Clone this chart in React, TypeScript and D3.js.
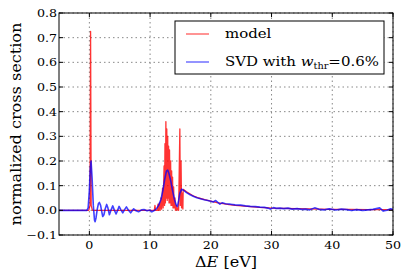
import React from 'react';
import * as d3 from 'd3';

// model cross section: narrow peaks at 0 eV and in the 11-15 eV band, then a smooth tail
const modelE = [
  -5, -0.1, 0.1, 0.2, 0.3, 0.5, 10.7, 10.8, 10.9, 11.2, 11.3, 11.4, 11.55, 11.65, 11.8, 11.9,
  12.05, 12.15, 12.3, 12.38, 12.45, 12.52, 12.6, 12.67, 12.75, 12.82, 12.9, 12.97, 13.05, 13.12,
  13.2, 13.28, 13.38, 13.45, 13.55, 13.62, 13.7, 13.78, 13.88, 13.95, 14.1, 14.17, 14.35, 14.42,
  14.6, 14.7, 14.9, 14.98, 15.1, 15.18, 15.3, 15.4, 15.45, 16, 17, 18, 19, 20, 21, 22, 23, 24,
  25, 26, 27, 28, 29, 30, 32, 34, 36, 38, 40, 43, 46, 50,
];
const modelY = [
  0, 0, 0.02, 0.725, 0.02, 0, 0, 0.02, 0, 0, 0.025, 0, 0.03, 0, 0.05, 0.005,
  0.09, 0.01, 0.18, 0.02, 0.27, 0.03, 0.36, 0.05, 0.33, 0.04, 0.3, 0.05, 0.26, 0.03,
  0.245, 0.03, 0.2, 0.02, 0.16, 0.02, 0.135, 0.01, 0.095, 0.01, 0.05, 0, 0.02, 0,
  0.01, 0, 0.33, 0.02, 0.2, 0.01, 0.07, 0.005, 0.085, 0.075, 0.06, 0.05, 0.043, 0.037, 0.031, 0.027, 0.023, 0.02,
  0.018, 0.016, 0.014, 0.012, 0.011, 0.009, 0.008, 0.007, 0.006, 0.005, 0.004, 0.004, 0.003, 0.003,
];

// SVD reconstruction
const svdE = [
  -5, -1, -0.4, -0.2, 0, 0.15, 0.28, 0.45, 0.65, 0.85, 0.95, 1.1, 1.3, 1.5, 1.65, 1.85, 2.0, 2.2,
  2.4, 2.6, 2.85, 3.05, 3.3, 3.55, 3.85, 4.1, 4.4, 4.65, 4.9, 5.2, 5.5, 5.8, 6.1, 6.45, 6.8, 7.05,
  7.3, 7.7, 8.1, 8.6, 9.0, 9.5, 10.0, 10.3, 10.6, 11.0, 11.4, 11.8, 12.1, 12.4, 12.7, 12.9, 13.1,
  13.4, 13.7, 14.0, 14.3, 14.5, 14.7, 14.9, 15.2, 15.6, 16.0, 16.6, 17.2, 17.7, 18.3, 18.9, 19.5,
  20.0, 20.4, 20.8, 21.1, 21.5, 21.9, 22.4, 23.2, 24.0, 24.9, 25.7, 26.5, 27.3, 28.1, 28.8, 29.4,
  29.8, 30.3, 30.8, 31.4, 32.0, 32.7, 33.4, 34.2, 35.0, 35.6, 36.3, 37.1, 37.8, 38.7, 39.5, 40.6,
  41.5, 42.4, 43.2, 44.0, 45.0, 45.9, 46.7, 47.8, 48.4, 49.0, 49.6, 50,
];
const svdY = [
  0, 0, 0, 0.01, 0.08, 0.17, 0.2, 0.13, 0.02, -0.04, -0.046, -0.03, 0.005, 0.028, 0.032, 0.02, 0, -0.025,
  -0.018, 0.005, 0.024, 0.01, -0.018, 0, 0.018, 0.002, -0.015, 0, 0.016, 0.002, -0.01, 0.003, 0.014, 0, -0.01, -0.002,
  0.006, -0.002, -0.006, 0.002, 0.003, -0.002, 0.001, -0.006, -0.002, 0.005, 0.02, 0.045, 0.08, 0.125, 0.16, 0.163, 0.15,
  0.12, 0.08, 0.045, 0.022, 0.015, 0.04, 0.07, 0.086, 0.08, 0.072, 0.063, 0.056, 0.051, 0.047, 0.043, 0.04,
  0.037, 0.034, 0.04, 0.033, 0.025, 0.031, 0.027, 0.025, 0.022, 0.021, 0.018, 0.016, 0.015, 0.013, 0.012, 0.009,
  0.005, 0.011, 0.008, 0.009, 0.007, 0.009, 0.005, 0.007, 0.004, 0.005, 0.002, 0.01, 0.004, 0.002, 0.006, 0.001,
  0.005, 0.003, -0.001, 0.003, 0, 0.002, 0.004, 0.01, -0.003, 0, 0.006, 0.004,
];

const xTicks = [0, 10, 20, 30, 40, 50];
const yTicks = [-0.1, 0, 0.1, 0.2, 0.3, 0.4, 0.5, 0.6, 0.7, 0.8];

const font = 'DejaVu Serif';
const stretch = 1.15;

export default function App() {
  const left = 59, right = 393, top = 13, bottom = 235;
  const x = d3.scaleLinear().domain([-5, 50]).range([left, right]);
  const y = d3.scaleLinear().domain([-0.1, 0.8]).range([bottom, top]);

  const line = d3.line<[number, number]>().x(d => x(d[0])).y(d => y(d[1]));
  const modelPath = line(modelE.map((e, i) => [e, modelY[i]]));
  const svdPath = line(svdE.map((e, i) => [e, svdY[i]]));

  const fmt = (v: number) => d3.format('.1f')(v).replace('-', '\u2212');

  return (
    <svg width={407} height={280} style={{ position: 'absolute', left: 0, top: 0, background: '#fff' }}>
      <rect width={407} height={280} fill="#fff" />
      <defs>
        <clipPath id="plot">
          <rect x={left} y={top} width={right - left} height={bottom - top} />
        </clipPath>
      </defs>

      {/* grid */}
      <g stroke="#888" strokeWidth={1} strokeDasharray="1.5,3">
        {xTicks.map(t => (
          <line key={'gx' + t} x1={x(t)} x2={x(t)} y1={top} y2={bottom} />
        ))}
        {yTicks.map(t => (
          <line key={'gy' + t} x1={left} x2={right} y1={y(t)} y2={y(t)} />
        ))}
      </g>

      <g clipPath="url(#plot)" fill="none" strokeLinejoin="round">
        <path d={modelPath ?? ''} stroke="#ff0000" strokeWidth={1.3} strokeOpacity={0.8} />
        <path d={svdPath ?? ''} stroke="#0000ff" strokeWidth={1.6} strokeOpacity={0.75} />
      </g>

      {/* frame and inward ticks */}
      <rect x={left} y={top} width={right - left} height={bottom - top} fill="none" stroke="#000" strokeWidth={1} />
      <g stroke="#000" strokeWidth={1}>
        {xTicks.map(t => (
          <g key={'tx' + t}>
            <line x1={x(t)} x2={x(t)} y1={bottom} y2={bottom - 4} />
            <line x1={x(t)} x2={x(t)} y1={top} y2={top + 4} />
          </g>
        ))}
        {yTicks.map(t => (
          <g key={'ty' + t}>
            <line x1={left} x2={left + 4} y1={y(t)} y2={y(t)} />
            <line x1={right} x2={right - 4} y1={y(t)} y2={y(t)} />
          </g>
        ))}
      </g>

      {/* tick labels */}
      <g fontFamily={font} fontSize={11} fill="#000">
        {xTicks.map(t => (
          <g key={'lx' + t} transform={`translate(${x(t)},249) scale(${stretch},1)`}>
            <text textAnchor="middle">{t}</text>
          </g>
        ))}
        {yTicks.map(t => (
          <g key={'ly' + t} transform={`translate(${left - 2},${y(t) + 4}) scale(${stretch},1)`}>
            <text textAnchor="end">{fmt(t)}</text>
          </g>
        ))}
      </g>

      {/* axis labels */}
      <g transform={`translate(226,267) scale(${stretch},1)`}>
        <text textAnchor="middle" fontFamily={font} fontSize={14}>
          {'\u0394'}<tspan fontStyle="italic">E</tspan> [eV]
        </text>
      </g>
      <g transform={`translate(20.5,${(top + bottom) / 2}) rotate(-90) scale(${stretch},1)`}>
        <text textAnchor="middle" fontFamily={font} fontSize={14}>normalized cross section</text>
      </g>

      {/* legend */}
      <rect x={175} y={21} width={209} height={53} fill="#fff" stroke="#000" strokeWidth={1} />
      <line x1={186} x2={209} y1={34} y2={34} stroke="#ff0000" strokeWidth={1.3} strokeOpacity={0.65} />
      <line x1={186} x2={209} y1={62} y2={62} stroke="#0000ff" strokeWidth={1.3} strokeOpacity={0.65} />
      <g fontFamily={font} fontSize={13}>
        <g transform={`translate(225,38) scale(${stretch},1)`}>
          <text>model</text>
        </g>
        <g transform={`translate(225,66) scale(${stretch},1)`}>
          <text>
            SVD with <tspan fontStyle="italic">w</tspan>
            <tspan fontSize={8.5} dy={3}>thr</tspan>
            <tspan dy={-3}>=0.6%</tspan>
          </text>
        </g>
      </g>
    </svg>
  );
}
